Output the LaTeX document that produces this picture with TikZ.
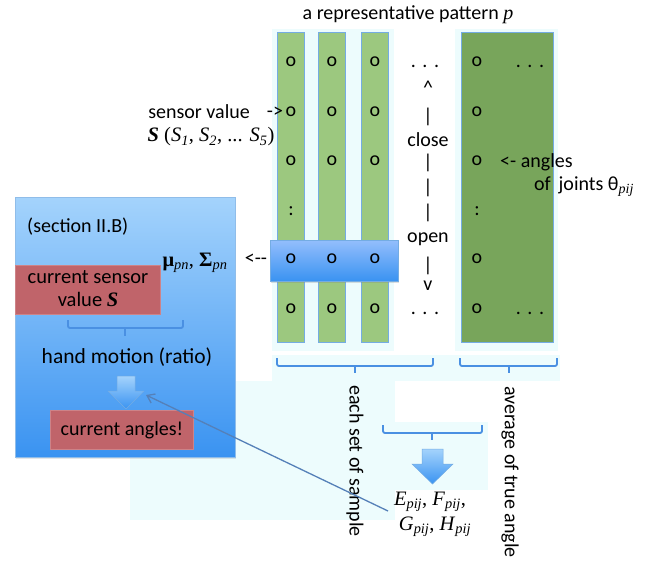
\documentclass[tikz,border=0pt]{standalone}
\usepackage{fontspec}
\setmainfont{Carlito}
\newfontfamily\tms{Liberation Serif}
\usetikzlibrary{shadows,arrows.meta}
\definecolor{cyanbg}{HTML}{EDFCFD}
\definecolor{lgreen}{HTML}{9CC87F}
\definecolor{dgreen}{HTML}{78A55B}
\definecolor{edgeblue}{HTML}{74ACE3}
\definecolor{bracecol}{HTML}{4A90E2}
\definecolor{redbox}{HTML}{C0646A}
\definecolor{bluetop}{HTML}{A4D3FC}
\definecolor{bluebot}{HTML}{3A93F1}
\definecolor{linecol}{HTML}{5580B8}
\begin{document}
\begin{tikzpicture}[x=1pt,y=-1pt,
  txt/.style={font=\fontsize{20}{23}\selectfont, inner sep=0pt, align=center},
  mth/.style={font=\fontsize{20.5}{23}\selectfont\tms, inner sep=0pt},
  col/.style={draw=edgeblue, line width=0.8pt, fill=lgreen, minimum width=27pt, minimum height=310pt, inner sep=0pt},
  bigcol/.style={draw=edgeblue, line width=0.8pt, fill=dgreen, minimum width=92pt, minimum height=310pt, inner sep=0pt},
  redb/.style={fill=redbox, draw=redbox!80!white, line width=0.6pt},
  bracket/.style={draw=bracecol, line width=1.8pt, rounded corners=2pt},
  barrow/.style={top color=bluetop, bottom color=bluebot, draw=edgeblue, line width=0.5pt},
  conn/.style={draw=linecol, line width=1.3pt, -{Straight Barb[length=7pt,width=10pt,line width=1.3pt]}}
]
\useasboundingbox (0,0) rectangle (650,563);
% light cyan backgrounds
\fill[cyanbg] (272,29) rectangle (394,351);
\fill[cyanbg] (455,29) rectangle (558,351);
\fill[cyanbg] (272,355) rectangle (560,381);
\fill[cyanbg] (130,381) rectangle (395,520);
\fill[cyanbg] (395,422) rectangle (488,490);
% title
\node[txt] (title) at (408,15) {a representative pattern {\tms\itshape p}};
% green columns
\node[col] (c1) at (291,187) {};
\node[col] (c2) at (332,187) {};
\node[col] (c3) at (375,187) {};
\node[bigcol] (cb) at (507,187) {};
% rows of o
\foreach \y [count=\i] in {62,112,161} {
  \node[txt] (a\i) at (291,\y) {o};
  \node[txt] (b\i) at (332,\y) {o};
  \node[txt] (d\i) at (375,\y) {o};
  \node[txt] (e\i) at (477,\y) {o};
}
\node[txt] (a4) at (291,211) {:};
\node[txt] (e4) at (477,211) {:};
\node[txt] (e5) at (477,259) {o};
\foreach \y [count=\i from 6] in {309} {
  \node[txt] (a\i) at (291,\y) {o};
  \node[txt] (b\i) at (332,\y) {o};
  \node[txt] (d\i) at (375,\y) {o};
  \node[txt] (e\i) at (477,\y) {o};
}
\node[txt] (dots1) at (425,66) {.\,\,.\,\,.};
\node[txt] (dots2) at (425,313) {.\,\,.\,\,.};
\node[txt] (dots3) at (530,66) {.\,\,.\,\,.};
\node[txt] (dots4) at (530,313) {.\,\,.\,\,.};
% blue bar on row 5
\node[draw=edgeblue, line width=0.6pt, top color=bluetop!90!blue, bottom color=bluebot, drop shadow={opacity=0.25,shadow xshift=1pt,shadow yshift=-2pt},
  minimum width=128pt, minimum height=41pt, inner sep=0pt] (bar) at (334,260.5) {};
\node[txt] (a5) at (291,259) {o};
\node[txt] (b5) at (332,259) {o};
\node[txt] (d5) at (375,259) {o};
\node[txt] (larr) at (256,259) {<{-}{-}};
% close/open column
\node[txt] (up) at (428,88) {\^{}};
\node[txt] (p1) at (428,117) {|};
\node[txt] (close) at (428,140) {close};
\node[txt] (p2) at (428,163) {|};
\node[txt] (p3) at (428,188) {|};
\node[txt] (p4) at (428,213) {|};
\node[txt] (open) at (428,239) {open};
\node[txt] (p5) at (428,266) {|};
\node[txt] (down) at (428,286) {v};
% sensor value labels
\node[txt, anchor=east] (sv) at (250,112) {sensor value};
\node[txt] (svarr) at (275,112) {->};
\node[mth] (svS) at (211,137) {\textbf{\textit{S}} (\textit{S}\textsubscript{\textit{1}}, \textit{S}\textsubscript{\textit{2}}, ... \textit{S}\textsubscript{\textit{5}})};
% angle labels
\node[txt, anchor=west] (ang1) at (500,162) {<- angles};
\node[txt, anchor=west] (ang2) at (534,187) {of\, joints θ{\tms\itshape\textsubscript{pij}}};
% left blue box
\node[draw=edgeblue!80!white, line width=0.8pt, top color=bluetop, bottom color=bluebot, drop shadow={opacity=0.2,shadow xshift=1pt,shadow yshift=-2pt},
  minimum width=220pt, minimum height=260pt, inner sep=0pt] (lbox) at (125,327) {};
\node[txt, anchor=west] (sec) at (27,227) {(section II.B)};
\node[mth] (mu) at (195,263) {\textbf{μ}\textsubscript{\textit{pn}}, \textbf{Σ}\textsubscript{\textit{pn}}};
\node[redb, minimum width=145pt, minimum height=49pt, inner sep=0pt] (r1) at (87.5,289.5) {};
\node[txt, font=\fontsize{20.5}{23}\selectfont] (r1t) at (88,289) {current sensor\\value {\tms\bfseries\itshape S}};
\draw[bracket] (68,320) -- (68,328) -- (183,328) -- (183,320);
\draw[bracket] (125,328) -- (125,336);
\node[txt, font=\fontsize{21.5}{24}\selectfont] (hm) at (127,357) {hand motion (ratio)};
\shade[barrow] (117,376) -- (135,376) -- (135,391) -- (144,391) -- (126,409) -- (108,391) -- (117,391) -- cycle;
\coordinate (harrowR) at (146,395);
\node[redb, minimum width=143pt, minimum height=39pt, inner sep=0pt] (r2) at (121.5,429.5) {};
\node[txt] (r2t) at (122,430) {current angles!};
% bottom brackets
\draw[bracket] (277,358) -- (277,366) -- (433,366) -- (433,358);
\draw[bracket] (355,366) -- (355,373);
\draw[bracket] (460,358) -- (460,366) -- (557,366) -- (557,358);
\draw[bracket] (509,366) -- (509,373);
\draw[bracket] (383,425) -- (383,433) -- (482,433) -- (482,425);
\draw[bracket] (432,433) -- (432,440);
\shade[barrow] (422,449) -- (443,449) -- (443,464) -- (453,464) -- (432.5,484) -- (412,464) -- (422,464) -- cycle;
% rotated labels
\node[txt, rotate=-90] (each) at (355,461) {each set of sample};
\node[txt, rotate=-90] (avg) at (510,472) {average of true angle};
% result
\node[mth] (ef) at (430,502) {\textit{E}\textsubscript{\textit{pij}}, \textit{F}\textsubscript{\textit{pij}},};
\node[mth] (gh) at (435,527) {\textit{G}\textsubscript{\textit{pij}}, \textit{H}\textsubscript{\textit{pij}}};
\coordinate (efL) at (388,511);
\draw[conn] (efL) -- (harrowR);
\end{tikzpicture}
\end{document}
